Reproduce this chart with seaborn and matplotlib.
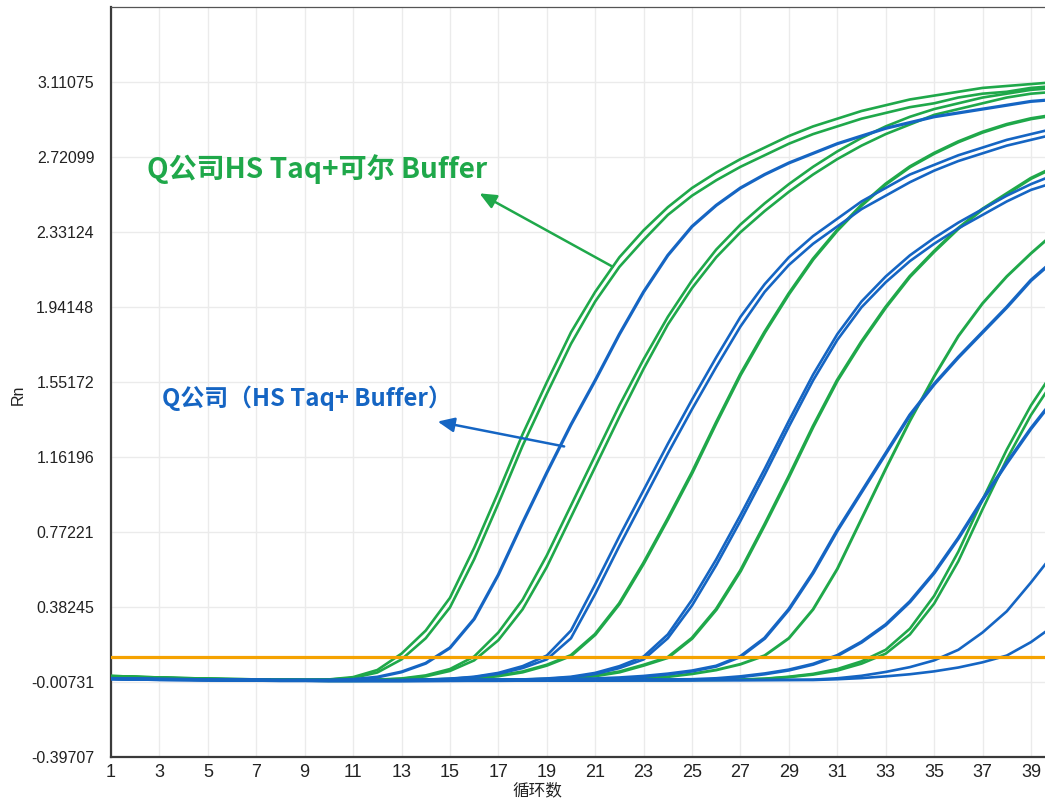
"""
qPCR amplification curves: Q company HS Taq with two buffers.
"""

import matplotlib

matplotlib.use("Agg")
import matplotlib.pyplot as plt
import pandas as pd
import seaborn as sns

# cycles
cycles = [1, 2, 3, 4, 5, 6, 7, 8, 9, 10,
          11, 12, 13, 14, 15, 16, 17, 18, 19, 20,
          21, 22, 23, 24, 25, 26, 27, 28, 29, 30,
          31, 32, 33, 34, 35, 36, 37, 38, 39, 40]

# green: HS Taq + 可尔 Buffer (Rn per cycle)
g1a = [0.022, 0.018, 0.014, 0.011, 0.008, 0.006, 0.004, 0.003, 0.002, 0.006,
       0.018, 0.055, 0.14, 0.26, 0.43, 0.69, 0.98, 1.28, 1.55, 1.81,
       2.02, 2.20, 2.34, 2.46, 2.56, 2.64, 2.71, 2.77, 2.83, 2.88,
       2.92, 2.96, 2.99, 3.02, 3.04, 3.06, 3.08, 3.09, 3.10, 3.11]
g1b = [0.020, 0.016, 0.013, 0.010, 0.007, 0.005, 0.004, 0.003, 0.002, 0.005,
       0.014, 0.042, 0.11, 0.22, 0.38, 0.63, 0.92, 1.22, 1.49, 1.75,
       1.97, 2.15, 2.29, 2.42, 2.52, 2.60, 2.67, 2.73, 2.79, 2.84,
       2.88, 2.92, 2.95, 2.98, 3.00, 3.03, 3.05, 3.06, 3.08, 3.09]
g2a = [0.022, 0.018, 0.014, 0.011, 0.008, 0.006, 0.004, 0.003, 0.002, 0.002,
       0.003, 0.005, 0.011, 0.027, 0.06, 0.125, 0.25, 0.42, 0.65, 0.91,
       1.17, 1.43, 1.67, 1.89, 2.08, 2.24, 2.37, 2.48, 2.58, 2.67,
       2.75, 2.82, 2.88, 2.93, 2.97, 3.00, 3.03, 3.05, 3.07, 3.08]
g2b = [0.020, 0.016, 0.013, 0.010, 0.007, 0.005, 0.004, 0.003, 0.002, 0.002,
       0.003, 0.004, 0.009, 0.022, 0.05, 0.105, 0.21, 0.37, 0.59, 0.85,
       1.11, 1.37, 1.62, 1.85, 2.04, 2.20, 2.33, 2.44, 2.54, 2.63,
       2.71, 2.78, 2.84, 2.89, 2.94, 2.97, 3.00, 3.03, 3.05, 3.06]
g3 = [0.022, 0.018, 0.014, 0.011, 0.008, 0.006, 0.004, 0.003, 0.002, 0.001,
      0.001, 0.002, 0.003, 0.004, 0.006, 0.012, 0.025, 0.045, 0.08, 0.13,
      0.24, 0.40, 0.61, 0.84, 1.08, 1.34, 1.59, 1.81, 2.01, 2.19,
      2.34, 2.47, 2.58, 2.67, 2.74, 2.80, 2.85, 2.89, 2.92, 2.94]
g4 = [0.022, 0.018, 0.014, 0.011, 0.008, 0.006, 0.004, 0.003, 0.002, 0.001,
      0.001, 0.001, 0.001, 0.002, 0.002, 0.003, 0.003, 0.004, 0.006, 0.012,
      0.025, 0.045, 0.08, 0.12, 0.22, 0.37, 0.57, 0.81, 1.06, 1.32,
      1.56, 1.76, 1.94, 2.10, 2.23, 2.35, 2.45, 2.53, 2.61, 2.67]
g5 = [0.022, 0.018, 0.014, 0.011, 0.008, 0.006, 0.004, 0.003, 0.002, 0.001,
      0.001, 0.001, 0.001, 0.001, 0.001, 0.002, 0.002, 0.002, 0.003, 0.003,
      0.004, 0.005, 0.01, 0.02, 0.035, 0.055, 0.085, 0.13, 0.22, 0.37,
      0.58, 0.84, 1.10, 1.35, 1.58, 1.79, 1.96, 2.10, 2.22, 2.33]
g6a = [0.022, 0.018, 0.014, 0.011, 0.008, 0.006, 0.004, 0.003, 0.002, 0.001,
       0.001, 0.001, 0.001, 0.001, 0.001, 0.001, 0.001, 0.002, 0.002, 0.002,
       0.002, 0.003, 0.003, 0.003, 0.004, 0.004, 0.005, 0.01, 0.02, 0.035,
       0.06, 0.10, 0.16, 0.27, 0.44, 0.67, 0.94, 1.20, 1.43, 1.62]
g6b = [0.020, 0.016, 0.013, 0.010, 0.007, 0.005, 0.004, 0.003, 0.002, 0.001,
       0.001, 0.001, 0.001, 0.001, 0.001, 0.001, 0.001, 0.002, 0.002, 0.002,
       0.002, 0.003, 0.003, 0.003, 0.004, 0.004, 0.005, 0.009, 0.018, 0.031,
       0.052, 0.088, 0.14, 0.24, 0.40, 0.62, 0.89, 1.15, 1.38, 1.57]

# blue: HS Taq + own Buffer
b1 = [0.010, 0.008, 0.006, 0.005, 0.004, 0.003, 0.002, 0.001, 0.001, 0.002,
      0.006, 0.018, 0.045, 0.09, 0.17, 0.32, 0.55, 0.82, 1.08, 1.33,
      1.56, 1.80, 2.02, 2.21, 2.36, 2.47, 2.56, 2.63, 2.69, 2.74,
      2.79, 2.83, 2.87, 2.90, 2.93, 2.95, 2.97, 2.99, 3.01, 3.02]
b2a = [0.010, 0.008, 0.006, 0.005, 0.004, 0.003, 0.002, 0.001, 0.001, 0.000,
       0.000, 0.001, 0.002, 0.005, 0.010, 0.020, 0.040, 0.075, 0.13, 0.26,
       0.50, 0.75, 0.99, 1.23, 1.46, 1.68, 1.89, 2.06, 2.20, 2.31,
       2.40, 2.49, 2.56, 2.63, 2.68, 2.73, 2.77, 2.81, 2.84, 2.87]
b2b = [0.010, 0.008, 0.006, 0.005, 0.004, 0.003, 0.002, 0.001, 0.001, 0.000,
       0.000, 0.001, 0.002, 0.004, 0.009, 0.018, 0.035, 0.065, 0.11, 0.22,
       0.45, 0.70, 0.94, 1.18, 1.41, 1.63, 1.84, 2.02, 2.16, 2.27,
       2.36, 2.45, 2.52, 2.59, 2.65, 2.70, 2.74, 2.78, 2.81, 2.84]
b3a = [0.010, 0.008, 0.006, 0.005, 0.004, 0.003, 0.002, 0.001, 0.001, 0.000,
       0.000, 0.000, 0.001, 0.001, 0.002, 0.003, 0.004, 0.006, 0.011, 0.02,
       0.04, 0.075, 0.125, 0.24, 0.42, 0.63, 0.86, 1.10, 1.35, 1.59,
       1.80, 1.97, 2.10, 2.21, 2.30, 2.38, 2.45, 2.52, 2.58, 2.63]
b3b = [0.010, 0.008, 0.006, 0.005, 0.004, 0.003, 0.002, 0.001, 0.001, 0.000,
       0.000, 0.000, 0.001, 0.001, 0.002, 0.003, 0.004, 0.005, 0.009, 0.017,
       0.034, 0.065, 0.11, 0.22, 0.39, 0.60, 0.83, 1.07, 1.32, 1.56,
       1.77, 1.94, 2.07, 2.18, 2.27, 2.35, 2.42, 2.49, 2.55, 2.59]
b4 = [0.010, 0.008, 0.006, 0.005, 0.004, 0.003, 0.002, 0.001, 0.001, 0.000,
      0.000, 0.000, 0.000, 0.001, 0.001, 0.002, 0.002, 0.003, 0.004, 0.006,
      0.009, 0.014, 0.022, 0.034, 0.05, 0.075, 0.125, 0.22, 0.37, 0.56,
      0.78, 0.98, 1.18, 1.38, 1.54, 1.68, 1.81, 1.94, 2.08, 2.19]
b5 = [0.010, 0.008, 0.006, 0.005, 0.004, 0.003, 0.002, 0.001, 0.001, 0.000,
      0.000, 0.000, 0.000, 0.000, 0.001, 0.001, 0.001, 0.002, 0.002, 0.002,
      0.003, 0.003, 0.004, 0.004, 0.005, 0.01, 0.02, 0.035, 0.055, 0.085,
      0.13, 0.20, 0.29, 0.41, 0.56, 0.74, 0.94, 1.13, 1.31, 1.47]
b6 = [0.010, 0.008, 0.006, 0.005, 0.004, 0.003, 0.002, 0.001, 0.001, 0.000,
      0.000, 0.000, 0.000, 0.000, 0.000, 0.000, 0.001, 0.001, 0.001, 0.001,
      0.001, 0.002, 0.002, 0.002, 0.002, 0.003, 0.003, 0.003, 0.004, 0.005,
      0.012, 0.025, 0.045, 0.07, 0.105, 0.16, 0.25, 0.36, 0.51, 0.67]
b7 = [0.010, 0.008, 0.006, 0.005, 0.004, 0.003, 0.002, 0.001, 0.001, 0.000,
      0.000, 0.000, 0.000, 0.000, 0.000, 0.000, 0.000, 0.001, 0.001, 0.001,
      0.001, 0.001, 0.002, 0.002, 0.002, 0.002, 0.002, 0.003, 0.003, 0.003,
      0.007, 0.013, 0.022, 0.033, 0.048, 0.068, 0.095, 0.13, 0.20, 0.29]

threshold = 0.122

x_ticks = [1, 3, 5, 7, 9, 11, 13, 15, 17, 19, 21, 23, 25, 27, 29, 31, 33, 35, 37, 39]
y_ticks = [-0.39707, -0.00731, 0.38245, 0.77221, 1.16196,
           1.55172, 1.94148, 2.33124, 2.72099, 3.11075]
y_tick_labels = ["-0.39707", "-0.00731", "0.38245", "0.77221", "1.16196",
                 "1.55172", "1.94148", "2.33124", "2.72099", "3.11075"]

GREEN = "#1fa84a"
BLUE = "#1565c3"
ORANGE = "#f5a200"

# name -> (values, colour, line width); pairs drawn a bit thinner so they read as doubles
curves = {
    "g1a": (g1a, GREEN, 1.9), "g1b": (g1b, GREEN, 1.9),
    "g2a": (g2a, GREEN, 1.9), "g2b": (g2b, GREEN, 1.9),
    "g3": (g3, GREEN, 2.5), "g4": (g4, GREEN, 2.5), "g5": (g5, GREEN, 2.1),
    "g6a": (g6a, GREEN, 1.9), "g6b": (g6b, GREEN, 1.9),
    "b1": (b1, BLUE, 2.3),
    "b2a": (b2a, BLUE, 1.9), "b2b": (b2b, BLUE, 1.9),
    "b3a": (b3a, BLUE, 1.9), "b3b": (b3b, BLUE, 1.9),
    "b4": (b4, BLUE, 2.5), "b5": (b5, BLUE, 2.5),
    "b6": (b6, BLUE, 1.9), "b7": (b7, BLUE, 1.9),
}

df = pd.concat(
    [pd.DataFrame({"cycle": cycles, "rn": vals, "curve": name}) for name, (vals, _, _) in curves.items()],
    ignore_index=True,
)

sns.set_theme(style="white")
plt.rcParams["font.family"] = ["Liberation Sans", "Noto Sans CJK SC", "DejaVu Sans"]

fig = plt.figure(figsize=(10.45, 8), dpi=100)
ax = fig.add_axes([111 / 1045, 43 / 800, 934 / 1045, 750 / 800])

for name, (vals, color, lw) in curves.items():
    sns.lineplot(data=df[df["curve"] == name], x="cycle", y="rn", color=color,
                 linewidth=lw, errorbar=None, ax=ax, zorder=3,
                 solid_joinstyle="round", solid_capstyle="round")

ax.axhline(threshold, color=ORANGE, linewidth=2.3, zorder=4)

ax.set_xlim(1, 39.58)
ax.set_ylim(-0.39707, 3.50051)
ax.set_xticks(x_ticks)
ax.set_xticklabels([str(t) for t in x_ticks], fontsize=13)
ax.set_yticks(y_ticks)
ax.set_yticklabels(y_tick_labels, fontsize=11.5)
ax.tick_params(length=0, colors="#222222")
ax.tick_params(axis="x", pad=5)
ax.tick_params(axis="y", pad=12)
ax.grid(True, color="#ebebeb", linewidth=1.0, zorder=0)
ax.set_xlabel("")
ax.set_ylabel("")

for side in ["left", "bottom"]:
    ax.spines[side].set_color("#3a3a3a")
    ax.spines[side].set_linewidth(1.6)
ax.spines["top"].set_color("#555555")
ax.spines["top"].set_linewidth(0.9)
ax.spines["right"].set_visible(False)

fig.text(537 / 1045, 1 - 791 / 800, "循环数", ha="center", va="center", fontsize=12,
         family=["Noto Sans CJK SC", "DejaVu Sans"], color="#222222")
fig.text(18 / 1045, 1 - 395 / 800, "Rn", ha="center", va="center", rotation=90,
         fontsize=11.5, color="#222222")

cjk = ["Noto Sans CJK SC", "DejaVu Sans"]
ax.annotate("", xy=(16.12, 2.539), xytext=(21.82, 2.144),
            arrowprops=dict(arrowstyle="-|>,head_length=0.5,head_width=0.22", color=GREEN,
                            lw=1.8, mutation_scale=20), zorder=6)
ax.annotate("", xy=(14.38, 1.349), xytext=(19.83, 1.214),
            arrowprops=dict(arrowstyle="-|>,head_length=0.5,head_width=0.22", color=BLUE,
                            lw=1.8, mutation_scale=20), zorder=6)
ax.text(2.49, 2.66, "Q公司HS Taq+可尔 Buffer", color=GREEN, fontsize=20.2,
        fontweight="bold", family=cjk, ha="left", va="center", zorder=6)
ax.text(3.11, 1.468, "Q公司（HS Taq+ Buffer）", color=BLUE, fontsize=17.2,
        fontweight="bold", family=cjk, ha="left", va="center", zorder=6)

fig.savefig("out.png", dpi=100)
